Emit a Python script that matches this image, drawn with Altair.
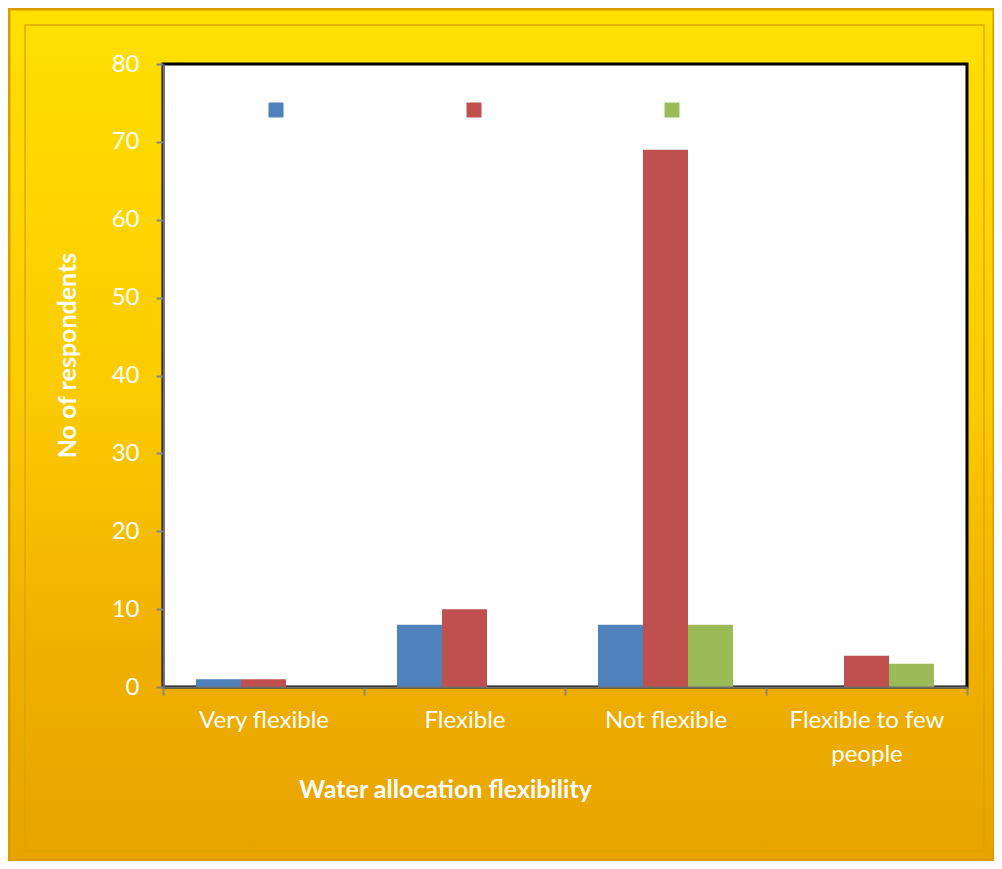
import altair as alt
import pandas as pd

categories = ["Very flexible", "Flexible", "Not flexible", "Flexible to few people"]
series_names = ["Series 1", "Series 2", "Series 3"]
series1 = [1, 8, 8, 0]
series2 = [1, 10, 69, 4]
series3 = [0, 0, 8, 3]
colors = ["#4F81BD", "#C0504D", "#9BBB59"]

rows = []
for i, c in enumerate(categories):
    for s, vals in zip(series_names, [series1, series2, series3]):
        rows.append({"category": c, "series": s, "value": vals[i]})
df = pd.DataFrame(rows)

W, H = 804, 623
PL, PT, PR, PB = 155, 56, 27, 174
FONT = "Lato"

grad = alt.Gradient(
    gradient="linear", x1=0, y1=0, x2=0, y2=1,
    stops=[alt.GradientStop(color="#FFE000", offset=0),
           alt.GradientStop(color="#FBCB00", offset=0.45),
           alt.GradientStop(color="#F0B000", offset=0.75),
           alt.GradientStop(color="#E8A300", offset=1)],
)

one = pd.DataFrame({"k": [0]})

bg = alt.Chart(one).mark_rect(fill=grad, stroke="#D89C00", strokeWidth=3).encode(
    x=alt.value(-PL + 1), x2=alt.value(W + PR),
    y=alt.value(-PT + 1), y2=alt.value(H + PB),
)
frame_inner = alt.Chart(one).mark_rect(fill="transparent", stroke="#DDA200", strokeWidth=2, strokeOpacity=0.7).encode(
    x=alt.value(-PL + 17), x2=alt.value(W + PR - 10),
    y=alt.value(-PT + 17), y2=alt.value(H + PB - 10),
)
plot_bg = alt.Chart(one).mark_rect(fill="white", stroke="black", strokeWidth=3).encode(
    x=alt.value(0), x2=alt.value(W), y=alt.value(0), y2=alt.value(H),
)

bars = alt.Chart(df).mark_bar().encode(
    x=alt.X("category:N", sort=categories,
            scale=alt.Scale(paddingInner=0, paddingOuter=0),
            axis=alt.Axis(
                title="Water allocation flexibility",
                labelAngle=0, labelColor="white", labelFont=FONT, labelFontSize=24,
                labelPadding=13, labelLineHeight=34, labelLimit=300,
                labelExpr="datum.label == 'Flexible to few people' ? ['Flexible to few', 'people'] : datum.label",
                tickBand="extent", tickSize=8, tickColor="#868686", tickWidth=2,
                domainColor="#6E6E6E", domainWidth=2,
                titleColor="white", titleFont=FONT, titleFontSize=25, titleFontWeight="bold",
                titleX=282, titleY=90, titleAlign="center", titleBaseline="top",
                zindex=1,
            )),
    xOffset=alt.XOffset("series:N", sort=series_names,
                        scale=alt.Scale(paddingInner=0, paddingOuter=0.733)),
    y=alt.Y("value:Q", scale=alt.Scale(domain=[0, 80], nice=False),
            axis=alt.Axis(
                title="No of respondents", values=[0, 10, 20, 30, 40, 50, 60, 70, 80],
                labelColor="white", labelFont=FONT, labelFontSize=24, labelPadding=17,
                tickSize=7, tickColor="#868686", tickWidth=2,
                domainColor="#6E6E6E", domainWidth=2, grid=False,
                titleColor="white", titleFont=FONT, titleFontSize=25, titleFontWeight="bold",
                titleX=-96, titleY=291, titleAlign="center", titleBaseline="middle", titleAngle=270,
                zindex=1,
            )),
    color=alt.Color("series:N", sort=series_names,
                    scale=alt.Scale(domain=series_names, range=colors),
                    legend=alt.Legend(
                        title=None, orient="none", legendX=103, legendY=36,
                        direction="horizontal", symbolType="square", symbolSize=225,
                        symbolStrokeWidth=0, labelColor="white", labelFont=FONT,
                        labelFontSize=20, columnPadding=103, labelOffset=5,
                    )),
)

chart = alt.layer(bg, frame_inner, plot_bg, bars).properties(
    width=W, height=H,
    autosize=alt.AutoSizeParams(type="none"),
    padding={"left": PL, "top": PT, "right": PR, "bottom": PB},
).configure_view(strokeWidth=0).configure(background="white")

chart.save("out.html", embed_options={"renderer": "svg", "actions": False})
